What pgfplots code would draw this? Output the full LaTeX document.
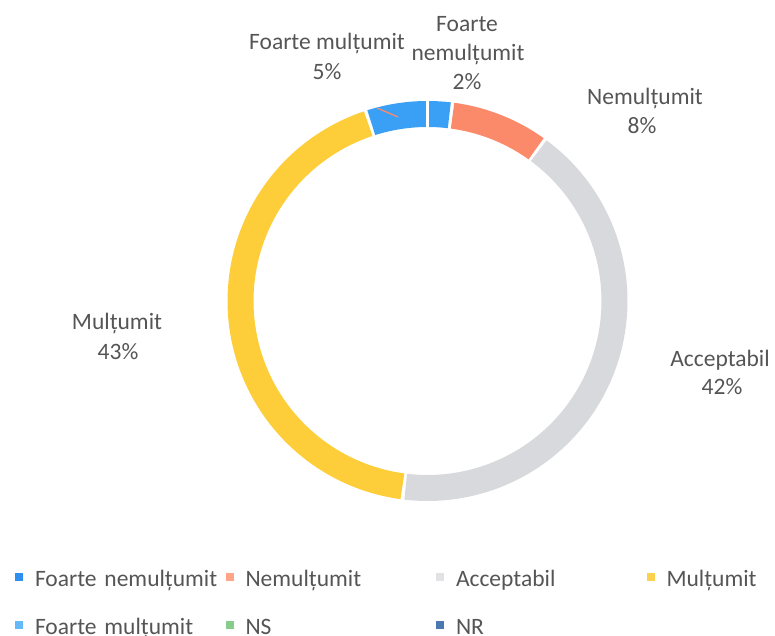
\documentclass[border=0pt]{standalone}
\usepackage{fontspec}
\setmainfont{Carlito}
\usepackage{pgfplots}
\pgfplotsset{compat=1.18}
\definecolor{cBlue}{RGB}{58,160,245}
\definecolor{cSalmon}{RGB}{250,138,106}
\definecolor{cGray}{RGB}{216,217,220}
\definecolor{cYellow}{RGB}{253,206,58}
\definecolor{lBlue}{RGB}{47,144,240}
\definecolor{lSalmon}{RGB}{255,165,135}
\definecolor{lGray}{RGB}{226,226,228}
\definecolor{lYellow}{RGB}{250,210,80}
\definecolor{lLightBlue}{RGB}{100,185,250}
\definecolor{lGreen}{RGB}{136,204,140}
\definecolor{lNavy}{RGB}{75,120,175}
\definecolor{txt}{RGB}{85,85,85}
% one ring segment: start share (cumulative %), end share (cumulative %), colour
\newcommand{\ring}[3]{%
  \addplot[draw=#3, line width=26bp, forget plot, samples=90, variable=\t,
    domain={90-3.6*(#2)+0.5}:{90-3.6*(#1)-0.5}]
    ({427.5+187*cos(\t)},{335+187*sin(\t)});
}
\begin{document}
\begin{tikzpicture}
\begin{axis}[name=ax,
  x=1bp, y=1bp, xmin=0, xmax=775, ymin=0, ymax=636,
  hide axis, clip=false,
  font=\fontsize{23.5bp}{28bp}\selectfont,
  legend image code/.code={\fill[#1] (0bp,0bp) rectangle (8bp,8bp);},
  legend columns=4,
  legend cell align=left,
  legend style={at={(axis cs:15,65)}, anchor=north west, draw=none, fill=none,
    inner sep=0pt, outer sep=0pt, text=txt,
    font=\fontsize{23.5bp}{28bp}\selectfont,
    nodes={inner sep=0pt, text height=16bp, text depth=5bp, text width=178.5bp, align=left},
    row sep=27bp,
    /tikz/every odd column/.append style={column sep=12bp},
    /tikz/every even column/.append style={column sep=12bp}},
]
% shares: Foarte nemultumit 2, Nemultumit 8, Acceptabil 42, Multumit 43, Foarte multumit 5
\ring{0}{2}{cBlue}
\ring{2}{10}{cSalmon}
\ring{10}{52}{cGray}
\ring{52}{95}{cYellow}
\ring{95}{100}{cBlue}
\draw[cSalmon, line width=1.3bp] (axis cs:377,528) -- (axis cs:398,519);

\addlegendimage{fill=lBlue, draw=none}
\addlegendimage{fill=lSalmon, draw=none}
\addlegendimage{fill=lGray, draw=none}
\addlegendimage{fill=lYellow, draw=none}
\addlegendimage{fill=lLightBlue, draw=none}
\addlegendimage{fill=lGreen, draw=none}
\addlegendimage{fill=lNavy, draw=none}
\legend{\mbox{Foarte nemulțumit}, \mbox{Nemulțumit}, \mbox{Acceptabil}, \mbox{Mulțumit}, \mbox{Foarte mulțumit}, NS, NR}

\begin{scope}[every node/.style={anchor=base, text=txt, inner sep=0pt}]
\node at (axis cs:327,586) {Foarte mulțumit};
\node at (axis cs:327,556) {5\%};
\node at (axis cs:467,604) {Foarte};
\node at (axis cs:468,575) {nemulțumit};
\node at (axis cs:467,546) {2\%};
\node at (axis cs:645,531) {Nemulțumit};
\node at (axis cs:642,502) {8\%};
\node at (axis cs:117,306) {Mulțumit};
\node at (axis cs:118,276) {43\%};
\node at (axis cs:720,269) {Acceptabil};
\node at (axis cs:722,241) {42\%};
\end{scope}
\end{axis}
\pgfresetboundingbox
\path (ax.south west) rectangle (ax.north east);
\end{tikzpicture}
\end{document}
